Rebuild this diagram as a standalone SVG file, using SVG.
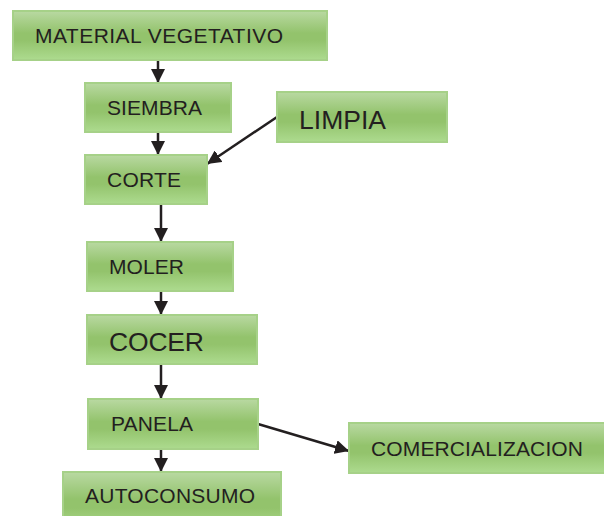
<svg xmlns="http://www.w3.org/2000/svg" width="604" height="516" viewBox="0 0 604 516">
<defs>
<linearGradient id="g" x1="0" y1="0" x2="0" y2="1">
<stop offset="0" stop-color="#b9d9a2"/>
<stop offset="0.45" stop-color="#93c36c"/>
<stop offset="0.6" stop-color="#93c36c"/>
<stop offset="1" stop-color="#addb8f"/>
</linearGradient>
<marker id="ah" viewBox="0 0 10 10" refX="10" refY="5" markerWidth="5.6" markerHeight="5.6" orient="auto" markerUnits="strokeWidth">
<path d="M0,0 L10,5 L0,10 z" fill="#231f20"/>
</marker>
<style>
.box{fill:url(#g);stroke:#a6d188;stroke-width:2}
.t{font-family:"Liberation Sans",Arial,sans-serif;font-size:21px;fill:#231f20}
.tb{font-family:"Liberation Sans",Arial,sans-serif;font-size:26.5px;fill:#231f20}
.c{stroke:#231f20;stroke-width:2.5;fill:none;marker-end:url(#ah)}
</style>
</defs>
<rect width="604" height="516" fill="#ffffff"/>
<g id="connectors">
<line class="c" x1="158" y1="61" x2="158" y2="83"/>
<line class="c" x1="158" y1="132" x2="158" y2="155"/>
<line class="c" x1="161" y1="204" x2="161" y2="242"/>
<line class="c" x1="161" y1="291" x2="161" y2="315"/>
<line class="c" x1="161" y1="364" x2="161" y2="399"/>
<line class="c" x1="161" y1="449" x2="161" y2="472"/>
<line class="c" x1="277" y1="117" x2="207" y2="164"/>
<line class="c" x1="258" y1="424" x2="349" y2="451"/>
</g>
<g id="material"><rect class="box" x="13" y="11" width="314" height="49"/><text class="t" x="35" y="43" textLength="248">MATERIAL VEGETATIVO</text></g>
<g id="siembra"><rect class="box" x="85" y="83" width="146" height="49"/><text class="t" x="107" y="115" textLength="95">SIEMBRA</text></g>
<g id="limpia"><rect class="box" x="277" y="92" width="170" height="50"/><text class="tb" x="299" y="129" textLength="87">LIMPIA</text></g>
<g id="corte"><rect class="box" x="85" y="155" width="122" height="49"/><text class="t" x="107" y="187" textLength="74">CORTE</text></g>
<g id="moler"><rect class="box" x="87" y="242" width="146" height="49"/><text class="t" x="109" y="274" textLength="75">MOLER</text></g>
<g id="cocer"><rect class="box" x="87" y="315" width="170" height="49"/><text class="tb" x="109" y="351" textLength="95">COCER</text></g>
<g id="panela"><rect class="box" x="88" y="399" width="170" height="50"/><text class="t" x="111" y="431" textLength="82">PANELA</text></g>
<g id="comercializacion"><rect class="box" x="349" y="423" width="256" height="50"/><text class="t" x="371" y="456" textLength="212">COMERCIALIZACION</text></g>
<g id="autoconsumo"><rect class="box" x="63" y="472" width="218" height="60"/><text class="t" x="85" y="503" textLength="170">AUTOCONSUMO</text></g>
</svg>
